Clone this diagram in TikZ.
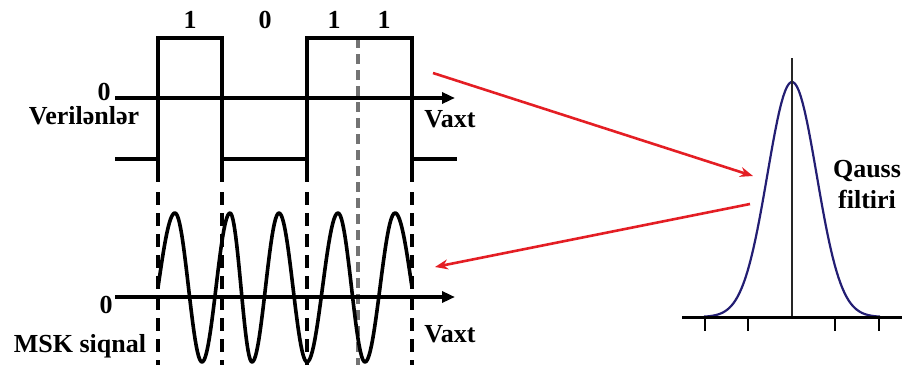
\documentclass[tikz,border=0pt]{standalone}
\usepackage{fontspec}
\setmainfont{Liberation Serif}[BoldFont={Liberation Serif Bold}]
\newfontfamily\lblfont{Liberation Serif Bold}
\usetikzlibrary{arrows.meta}
\definecolor{gaussblue}{RGB}{35,30,115}
\definecolor{arrowred}{RGB}{228,30,36}
\begin{document}
\begin{tikzpicture}[x=1pt,y=-1pt,
  lbl/.style={font=\fontsize{26}{31}\selectfont\lblfont,inner sep=0pt},
  sig/.style={line width=3.6pt},
  axis/.style={line width=3.6pt,-{Triangle[length=13pt,width=11pt]}},
  edge/.style={line width=3.6pt,dash pattern=on 13pt off 8pt},
  mid/.style={line width=3.4pt,black!55,dash pattern=on 10pt off 6pt},
  flow/.style={arrowred,line width=2.6pt,-{Stealth[length=13pt,width=10pt]}}]
\useasboundingbox (0,0) rectangle (904,367);
\draw[mid] (358,38) -- (358,365);
\coordinate (dO) at (115,98);
\coordinate (dE) at (455,98);
\draw[axis] (dO) -- (dE);
\foreach \ex in {158,222,307,412} {
  \draw[sig] (\ex,159) -- (\ex,182);
  \draw[edge] (\ex,192) -- (\ex,365);
}
\draw[sig,line join=miter] (115,159) -- (158,159) -- (158,38) -- (222,38) -- (222,159) -- (307,159) -- (307,38) -- (412,38) -- (412,159) -- (457,159);
\node[lbl,anchor=base] (bitA) at (190,28) {1};
\node[lbl,anchor=base] (bitB) at (265,28) {0};
\node[lbl,anchor=base] (bitC) at (334,28) {1};
\node[lbl,anchor=base] (bitD) at (384,28) {1};
\node[lbl,anchor=base] (zeroD) at (104,100) {0};
\node[lbl,anchor=base] (dataLbl) at (84,124) {Verilənlər};
\node[lbl,anchor=base] (timeD) at (450,127) {Vaxt};
\coordinate (mO) at (115,297);
\coordinate (mE) at (455,297);
\draw[axis] (mO) -- (mE);
\draw[sig,line join=round] (158,287.5) \foreach \xa/\xb/\sg/\da/\db in {141/175/-1/90/180,175/202/1/0/180,202/230/-1/0/180,230/252/1/0/180,252/279/-1/0/180,279/307/1/0/180,307/338/-1/0/180,338/365/1/0/180,365/395/-1/0/180,395/429/1/0/90} { -- plot[domain=\da:\db,samples=24] ({\xa+(\xb-\xa)*\x/180},{287.5-\sg*74.5*cos(\x)}) };
\node[lbl,anchor=base] (zeroM) at (106,313) {0};
\node[lbl,anchor=base] (mskLbl) at (80,352) {MSK siqnal};
\node[lbl,anchor=base] (timeM) at (450,342) {Vaxt};
\draw[gaussblue,line width=2.2pt] plot[domain=-88:88,samples=90] ({792+\x},{317-235*exp(-0.5*(\x/24.6)*(\x/24.6))});
\draw[line width=1.6pt,black!85] (792,58) -- (792,317);
\draw[line width=3pt] (682,317) -- (902,317);
\foreach \tx in {705,748,835,879}
  \draw[line width=2pt] (\tx,317) -- (\tx,331);
\node[lbl,align=center] (gaussLbl) at (867,185) {Qauss\\filtiri};
\coordinate (outD) at (433,73);
\coordinate (inG) at (753,176);
\coordinate (outG) at (750,204);
\coordinate (inM) at (435,267);
\draw[flow] (outD) -- (inG);
\draw[flow] (outG) -- (inM);
\end{tikzpicture}
\end{document}
